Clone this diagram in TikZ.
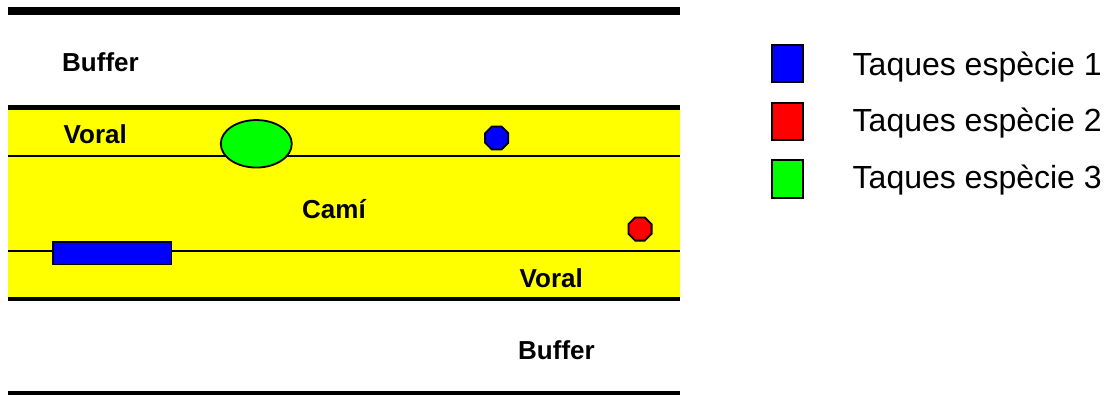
\documentclass[tikz,border=0pt]{standalone}
\usepackage{fontspec}
\setmainfont{Liberation Sans}
\usetikzlibrary{shapes.geometric}
\definecolor{pyellow}{RGB}{255,255,0}
\definecolor{pgreen}{RGB}{0,255,0}
\definecolor{pblue}{RGB}{0,0,255}
\definecolor{pred}{RGB}{255,0,0}
\begin{document}
\begin{tikzpicture}[x=1pt,y=-1pt,
  lbl/.style={font=\fontsize{26}{30}\selectfont\bfseries, anchor=base west, inner sep=0pt},
  leg/.style={font=\fontsize{32}{38}\selectfont, anchor=base west, inner sep=0pt},
  oct/.style={regular polygon, regular polygon sides=8, minimum size=25.1pt, inner sep=0pt, draw=black, line width=1.8pt},
  legbox/.style={draw=black, line width=2pt, minimum width=30.7pt, minimum height=37.3pt, inner sep=0pt},
  thick edge/.style={line width=4.5pt},
  thin edge/.style={line width=2pt}]
\useasboundingbox (0,0) rectangle (1110,394);
% yellow road band
\fill[pyellow] (8,107.7) rectangle (680,299.3);
% band lines
\coordinate (t1) at (8,11);   \coordinate (t2) at (680,11);
\coordinate (u1) at (8,107.7); \coordinate (u2) at (680,107.7);
\coordinate (m1) at (8,156.3); \coordinate (m2) at (680,156.3);
\coordinate (n1) at (8,250.7); \coordinate (n2) at (680,250.7);
\coordinate (l1) at (8,299.3); \coordinate (l2) at (680,299.3);
\coordinate (b1) at (8,393);   \coordinate (b2) at (680,393);
\draw[line width=7.5pt] (t1) -- (t2);
\draw[thick edge] (u1) -- (u2);
\draw[thin edge] (m1) -- (m2);
\draw[thin edge] (n1) -- (n2);
\draw[line width=4pt] (l1) -- (l2);
\draw[line width=4pt] (b1) -- (b2);
% spots
\node[ellipse, draw=black, line width=1.8pt, fill=pgreen, minimum width=71pt, minimum height=47.5pt, inner sep=0pt] (g) at (256.3,143.8) {};
\node[oct, fill=pblue] (bo) at (496.7,138) {};
\node[oct, fill=pred] (ro) at (640,229) {};
\node[draw=black, line width=1.8pt, fill=pblue, minimum width=118.8pt, minimum height=22.8pt, inner sep=0pt] (br) at (112,253) {};
% labels
\node[lbl] (buf1) at (62,71.3) {Buffer};
\node[lbl] (vor1) at (63.5,143.3) {Voral};
\node[lbl] (cami) at (302,218.3) {Camí};
\node[lbl] (vor2) at (519.5,287.3) {Voral};
\node[lbl] (buf2) at (518,359) {Buffer};
% legend
\node[legbox, fill=pblue] (k1) at (787.3,63.7) {};
\node[legbox, fill=pred] (k2) at (787.3,121.5) {};
\node[legbox, fill=pgreen] (k3) at (787.3,179) {};
\node[leg] (t1l) at (852.5,75) {Taques espècie 1};
\node[leg] (t2l) at (852.5,131.7) {Taques espècie 2};
\node[leg] (t3l) at (852.5,188.3) {Taques espècie 3};
\end{tikzpicture}
\end{document}
